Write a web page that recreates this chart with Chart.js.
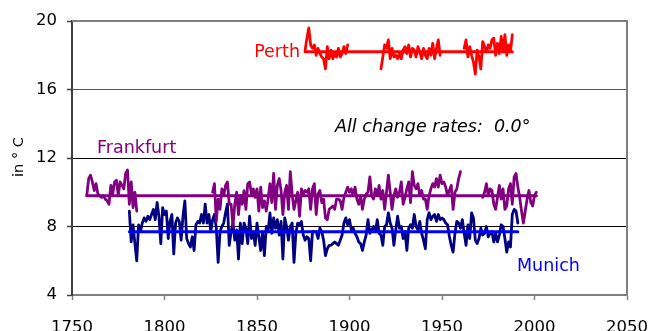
<!DOCTYPE html>
<html>
<head>
<meta charset="utf-8">
<script src="https://cdn.jsdelivr.net/npm/chart.js@4/dist/chart.umd.min.js"></script>
<style>
html,body{margin:0;padding:0;background:#ffffff;}
#wrap{width:648px;height:331px;position:relative;}
</style>
</head>
<body>
<div id="wrap"><canvas id="c" width="648" height="331"></canvas></div>
<script>
// ---- axis ticks ----
const xTicks = [1750, 1800, 1850, 1900, 1950, 2000, 2050];
const yTicks = [4, 8, 12, 16, 20];

// ---- series labels ----
const seriesNames = ['Perth', 'Frankfurt', 'Munich'];
const noteText = 'All change rates:  0.0°';
const yTitle = 'in ° C';

// ---- Perth (annual mean °C), three segments ----
const perthStart1 = 1876;
const perth1 = [18.3,19.0,19.6,18.6,18.4,18.6,18.0,18.4,18.1,17.9,17.8,17.2,18.5,17.8,18.3,17.8,18.1,17.9,18.4,17.9,18.1,18.5,18.1,18.6];
const perthStart2 = 1917;
const perth2 = [17.2,17.9,18.6,18.4,18.9,17.8,18.4,17.9,18.0,17.8,18.1,17.8,18.3,18.5,18.1,18.6,17.9,18.4,18.3,17.9,18.5,18.2,17.8,18.4,18.0,17.8,18.4,18.0,18.7,17.8,18.4,18.9,18.0];
const perthStart3 = 1962;
const perth3 = [18.4,18.9,17.9,18.5,18.0,17.6,16.9,18.3,17.9,17.2,18.8,18.5,18.2,18.6,18.4,18.9,19.0,18.0,18.7,18.1,19.1,18.2,19.2,18.0,18.6,18.2,19.2];
const perthMean = 18.2;
const perthMeanYears = [1876, 1988];

// ---- Frankfurt, three segments ----
const frankfurtStart1 = 1758;
const frankfurt1 = [9.8,10.8,11.0,10.6,10.1,10.5,9.9,9.8,9.7,9.8,9.6,9.5,9.3,10.4,9.9,10.6,10.7,9.8,10.6,10.4,10.2,11.1,11.3,9.3,10.6,9.1,10.0,8.9];
const frankfurtStart2 = 1826;
const frankfurt2 = [
10.0,10.5,8.3,9.6,9.0,10.2,9.8,10.4,10.6,9.3,
9.3,8.0,9.3,10.0,8.7,9.8,9.3,10.1,9.0,10.5,
10.6,9.9,10.2,9.7,10.2,8.9,10.3,9.1,9.5,8.9,
9.6,10.5,9.4,11.1,9.0,10.4,10.8,10.1,8.7,10.0,
10.4,9.0,11.2,9.9,9.0,9.5,10.0,8.6,10.2,9.9,
10.1,10.0,10.2,9.0,10.2,10.5,8.7,9.9,10.1,9.4,
9.6,8.5,8.4,9.0,9.1,9.2,9.0,9.6,9.6,9.5,
9.0,9.7,10.0,10.3,10.0,10.2,9.8,10.3,9.6,9.3,
9.8,9.0,9.6,9.9,10.0,10.9,9.8,9.6,10.2,9.8,
10.4,9.6,10.1,9.0,10.0,11.0,10.0,9.0,9.8,10.2,
9.7,10.0,10.6,9.3,9.7,10.2,10.6,9.4,11.2,10.4,
10.2,10.5,9.8,10.1,9.6,9.6,9.0,9.8,10.2,10.5,
10.3,10.8,10.3,11.0,10.5,10.6,10.3,9.8,10.1,10.4,
9.0,10.0,10.2,10.8,11.2];
const frankfurtStart3 = 1972;
const frankfurt3 = [9.7,10.0,10.5,9.8,10.2,10.1,9.3,9.0,9.7,10.4,9.6,10.2,9.0,9.2,10.2,10.5,9.3,10.9,11.1,10.3,9.7,8.9,8.2,8.9,9.6,10.1,9.4,9.2,9.8,10.0];
const frankfurtMean = 9.8;
const frankfurtMeanYears = [1758, 2001];

// ---- Munich, one segment ----
const munichStart = 1781;
const munich = [
8.9,7.1,8.1,7.0,6.0,8.1,7.7,8.2,8.5,8.3,
8.6,8.4,8.7,9.0,8.4,9.4,8.6,7.0,9.1,8.7,
8.9,7.3,8.3,8.7,6.4,8.2,8.5,8.3,7.2,8.6,
9.5,7.3,7.0,6.8,7.4,6.6,8.1,8.3,8.2,8.7,
8.2,9.3,8.2,8.7,7.7,8.4,8.7,7.9,5.9,7.7,
8.0,8.2,8.8,9.3,6.9,7.7,8.2,7.2,7.8,6.1,
8.2,7.0,8.2,7.9,7.0,8.6,7.3,7.7,6.9,8.2,
7.4,6.6,7.7,6.3,8.0,7.7,8.8,7.6,8.5,7.9,
8.4,7.5,8.3,6.1,8.5,8.0,7.2,8.0,8.2,5.9,
7.6,8.2,8.1,8.3,7.5,7.2,7.4,7.3,6.0,7.7,
7.7,7.7,7.3,7.9,7.7,7.2,6.3,6.7,6.9,6.9,
7.0,7.1,7.0,6.9,7.2,7.5,8.2,8.5,8.1,8.4,
7.8,7.9,7.6,7.4,7.1,7.0,6.6,7.1,7.5,8.4,
7.6,7.8,8.0,7.7,8.4,7.6,7.5,6.9,8.0,8.1,
8.8,8.2,7.9,6.9,7.8,8.6,7.9,8.0,7.3,7.7,
6.6,7.9,8.1,7.9,8.7,8.0,7.8,8.3,7.6,7.2,
6.7,8.4,8.8,8.4,8.6,8.7,8.3,8.7,8.4,8.5,
8.4,8.2,8.1,7.4,6.9,6.5,7.6,8.3,8.2,7.9,
8.4,7.6,6.9,8.1,7.3,8.8,8.5,7.2,7.0,7.3,
7.9,7.5,7.6,8.0,7.4,7.6,7.7,7.1,7.6,7.1,
7.5,8.1,8.0,7.3,6.5,7.1,6.8,8.7,9.0,8.9,
8.2];
const munichMean = 7.7;
const munichMeanYears = [1781, 1991];

// ---- helpers to build {x,y} points ----
function seg(start, vals) { return vals.map((v, i) => ({ x: start + i, y: v })); }
function joinSegs(...segs) {
  const out = [];
  segs.forEach((s, k) => {
    if (k > 0) out.push({ x: (out[out.length - 1].x + s[0].x) / 2, y: null });
    out.push(...s);
  });
  return out;
}
function meanLine(years, v) { return [{ x: years[0], y: v }, { x: years[1], y: v }]; }

const perthPts = joinSegs(seg(perthStart1, perth1), seg(perthStart2, perth2), seg(perthStart3, perth3));
const frankfurtPts = joinSegs(seg(frankfurtStart1, frankfurt1), seg(frankfurtStart2, frankfurt2), seg(frankfurtStart3, frankfurt3));
const munichPts = seg(munichStart, munich);

const RED = '#FF0000', PURPLE = '#800080', NAVY = '#000080', BLUE = '#0000FF';
const FONT = 'DejaVu Sans';

function ds(label, data, color, width, order) {
  return { label, data, borderColor: color, backgroundColor: color, borderWidth: width,
    pointRadius: 0, tension: 0, spanGaps: false, fill: false, order,
    borderJoinStyle: 'round', borderCapStyle: 'round' };
}

const overlay = {
  id: 'overlay',
  beforeDatasetsDraw(chart) {
    const ctx = chart.ctx, a = chart.chartArea;
    ctx.save();
    ctx.strokeStyle = '#808080';
    ctx.lineWidth = 2;
    ctx.beginPath();
    ctx.moveTo(a.left, a.top);
    ctx.lineTo(a.right, a.top);
    ctx.lineTo(a.right, a.bottom + 1);
    ctx.stroke();
    ctx.restore();
  },
  afterDraw(chart) {
    const ctx = chart.ctx;
    ctx.save();
    ctx.textBaseline = 'alphabetic';
    ctx.font = '17.5px "' + FONT + '"';
    ctx.fillStyle = RED; ctx.textAlign = 'right';
    ctx.fillText(seriesNames[0], 300, 56.5);
    ctx.fillStyle = PURPLE; ctx.textAlign = 'left';
    ctx.fillText(seriesNames[1], 97, 152.5);
    ctx.fillStyle = BLUE;
    ctx.fillText(seriesNames[2], 517, 270.5);
    ctx.fillStyle = '#000000';
    ctx.font = 'italic 17.5px "' + FONT + '"';
    ctx.fillText(noteText, 335, 132);
    ctx.font = '14.5px "' + FONT + '"';
    ctx.translate(23, 157);
    ctx.rotate(-Math.PI / 2);
    ctx.textAlign = 'center';
    ctx.fillText(yTitle, 0, 0);
    ctx.restore();
  }
};

new Chart(document.getElementById('c'), {
  type: 'line',
  data: {
    datasets: [
      ds('Munich mean', meanLine(munichMeanYears, munichMean), BLUE, 3, 1),
      ds('Frankfurt mean', meanLine(frankfurtMeanYears, frankfurtMean), PURPLE, 3, 2),
      ds('Perth mean', meanLine(perthMeanYears, perthMean), RED, 3, 3),
      ds('Frankfurt', frankfurtPts, PURPLE, 2.8, 4),
      ds('Munich', munichPts, NAVY, 2.8, 5),
      ds('Perth', perthPts, RED, 2.8, 6)
    ]
  },
  options: {
    responsive: false,
    animation: false,
    devicePixelRatio: 1,
    layout: { padding: { top: 21, right: 21, left: 0, bottom: 0 } },
    plugins: { legend: { display: false }, tooltip: { enabled: false }, title: { display: false } },
    scales: {
      x: {
        type: 'linear', min: xTicks[0], max: xTicks[xTicks.length - 1],
        afterBuildTicks: s => { s.ticks = xTicks.map(v => ({ value: v })); },
        afterFit: s => { s.height = 36; s.paddingLeft = 0; s.paddingRight = 0; },
        ticks: { color: '#000000', font: { family: FONT, size: 16.5 }, padding: 18, maxRotation: 0, autoSkip: false,
          callback: v => String(v) },
        grid: { drawOnChartArea: false, drawTicks: true, tickLength: 5, tickColor: '#808080', tickWidth: 1.5 },
        border: { color: '#808080', width: 2 }
      },
      y: {
        min: yTicks[0], max: yTicks[yTicks.length - 1],
        afterBuildTicks: s => { s.ticks = yTicks.map(v => ({ value: v })); },
        afterFit: s => { s.width = 72; s.paddingTop = 0; s.paddingBottom = 0; },
        ticks: { color: '#000000', font: { family: FONT, size: 16.5 }, padding: 10, callback: v => String(v) },
        grid: {
          drawTicks: true, tickLength: 5, tickColor: '#404040', tickWidth: 1.5,
          color: c => (c.tick && (c.tick.value === 4 || c.tick.value === 20)) ? 'rgba(0,0,0,0)' : (c.tick && c.tick.value === 16 ? '#555555' : '#000000'),
          lineWidth: 1
        },
        border: { color: '#404040', width: 2 }
      }
    }
  },
  plugins: [overlay]
});
</script>
</body>
</html>
